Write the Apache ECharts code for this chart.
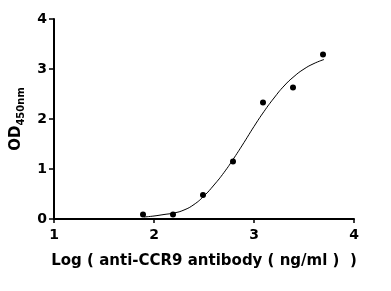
<!DOCTYPE html>
<html>
<head>
<meta charset="utf-8">
<script src="https://cdn.jsdelivr.net/npm/echarts@6/dist/echarts.min.js"></script>
<style>
html,body{margin:0;padding:0;background:#fff;}
#chart{width:391px;height:291px;}
</style>
</head>
<body>
<div id="chart"></div>
<script>
var pointX = [1.89, 2.19, 2.49, 2.79, 3.09, 3.39, 3.69];
var pointY = [0.09, 0.09, 0.48, 1.15, 2.33, 2.63, 3.29];
var curveX = [1.9, 2.0, 2.1, 2.2, 2.3, 2.4, 2.5, 2.6, 2.7, 2.8, 2.9, 3.0, 3.1, 3.2, 3.3, 3.4, 3.5, 3.6, 3.7];
var curveY = [0.04, 0.06, 0.09, 0.12, 0.18, 0.29, 0.46, 0.68, 0.93, 1.22, 1.53, 1.85, 2.15, 2.42, 2.66, 2.85, 3.0, 3.11, 3.19];
var xTicks = [1, 2, 3, 4];
var yTicks = [0, 1, 2, 3, 4];
var xTitle = 'Log ( anti-CCR9 antibody ( ng/ml )  )';

var font = 'DejaVu Sans';
var chart = echarts.init(document.getElementById('chart'));
chart.setOption({
  animation: false,
  backgroundColor: '#fff',
  grid: {left: 54, right: 37, top: 19, bottom: 72},
  xAxis: {
    type: 'value',
    min: xTicks[0], max: xTicks[xTicks.length - 1], interval: 1,
    splitLine: {show: false},
    axisLine: {onZero: false, lineStyle: {color: '#000', width: 2}},
    axisTick: {show: true, length: 4, lineStyle: {color: '#000', width: 1.5}},
    axisLabel: {color: '#000', fontFamily: font, fontWeight: 'bold', fontSize: 14, margin: 9},
    name: xTitle,
    nameLocation: 'middle',
    nameGap: 35,
    nameTextStyle: {color: '#000', fontFamily: font, fontWeight: 'bold', fontSize: 15}
  },
  yAxis: {
    type: 'value',
    min: yTicks[0], max: yTicks[yTicks.length - 1], interval: 1,
    splitLine: {show: false},
    axisLine: {onZero: false, lineStyle: {color: '#000', width: 2}},
    axisTick: {show: true, length: 5, lineStyle: {color: '#000', width: 1.5}},
    axisLabel: {color: '#000', fontFamily: font, fontWeight: 'bold', fontSize: 14, margin: 7},
    name: '{od|OD}{sub|450nm}',
    nameLocation: 'middle',
    nameRotate: 90,
    nameGap: 23,
    nameTextStyle: {
      color: '#000', fontFamily: font, fontWeight: 'bold',
      rich: {
        od: {fontFamily: font, fontWeight: 'bold', fontSize: 15, color: '#000'},
        sub: {fontFamily: font, fontWeight: 'bold', fontSize: 10, color: '#000', verticalAlign: 'bottom', padding: [0, 0, -3, 0]}
      }
    }
  },
  series: [
    {
      type: 'line',
      data: curveX.map(function (x, i) { return [x, curveY[i]]; }),
      smooth: true,
      showSymbol: false,
      lineStyle: {color: '#000', width: 1},
      z: 2
    },
    {
      type: 'scatter',
      data: pointX.map(function (x, i) { return [x, pointY[i]]; }),
      symbol: 'circle',
      symbolSize: 6,
      itemStyle: {color: '#000', opacity: 1},
      z: 3
    }
  ]
});
</script>
</body>
</html>
